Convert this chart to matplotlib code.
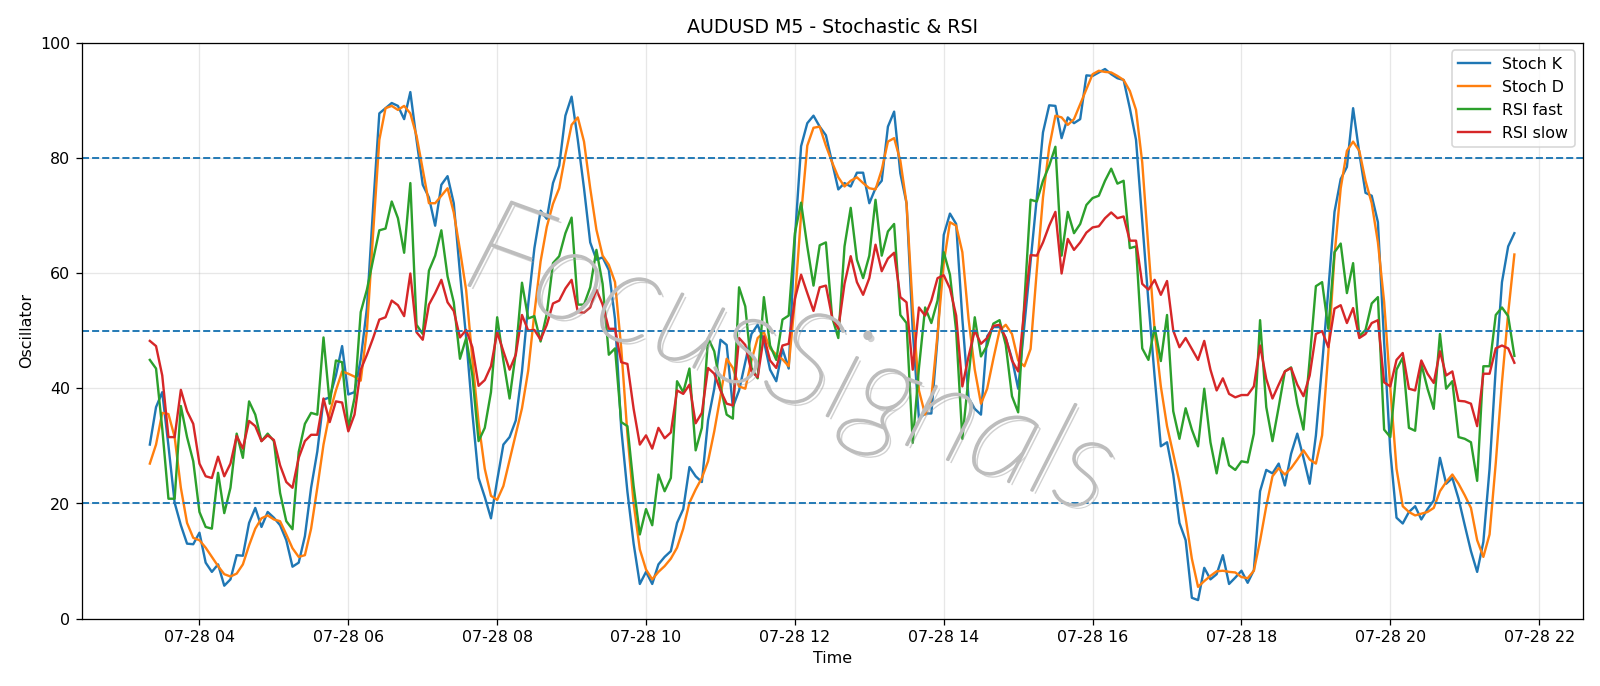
import matplotlib
matplotlib.use("Agg")
import matplotlib.pyplot as plt
import matplotlib.dates as mdates
import matplotlib.patheffects as pe
import pandas as pd

# 5-minute bars, 03:20 -> 21:40
times = pd.date_range("2025-07-28 03:20", periods=221, freq="5min")

stoch_k = [
    30.2, 36.7, 39.3, 30.0, 20.1, 16.2, 13.0, 12.9, 14.9, 9.7,
    8.1, 9.4, 5.7, 6.8, 11.0, 10.9, 16.6, 19.2, 15.9, 18.5,
    17.5, 16.2, 13.6, 9.0, 9.7, 14.3, 22.7, 29.0, 38.0, 38.4,
    42.2, 47.3, 38.9, 39.3, 45.0, 53.9, 71.4, 87.7, 88.6, 89.5,
    89.0, 86.7, 91.4, 83.1, 75.3, 73.1, 68.2, 75.3, 76.8, 72.1,
    60.0, 48.7, 35.7, 24.4, 21.1, 17.4, 24.0, 30.2, 31.5, 34.4,
    42.9, 54.5, 64.3, 70.8, 69.4, 75.6, 78.6, 87.3, 90.6, 83.1,
    74.7, 65.3, 62.3, 62.7, 60.5, 52.0, 33.0, 22.0, 13.0, 6.0,
    8.1, 6.0, 9.4, 10.7, 11.7, 16.6, 19.0, 26.3, 24.7, 23.7,
    34.4, 39.9, 48.4, 47.5, 36.7, 39.6, 44.5, 49.4, 51.0, 48.2,
    43.2, 41.2, 46.8, 43.4, 66.0, 82.0, 86.0, 87.3, 85.4, 83.9,
    79.2, 74.5, 75.6, 75.0, 77.4, 77.4, 72.1, 74.7, 76.0, 85.4,
    88.0, 77.3, 72.1, 50.0, 34.7, 35.6, 35.6, 48.7, 66.6, 70.3,
    68.5, 52.0, 38.3, 36.4, 35.4, 49.0, 50.6, 50.6, 48.7, 45.1,
    39.9, 51.0, 62.0, 73.0, 84.4, 89.1, 89.0, 83.4, 87.0, 86.0,
    86.7, 94.3, 94.2, 94.8, 95.4, 94.5, 93.8, 93.5, 88.6, 83.1,
    69.0, 55.0, 42.0, 29.9, 30.6, 25.0, 16.6, 13.6, 3.6, 3.2,
    8.8, 6.8, 7.7, 11.0, 6.0, 7.1, 8.3, 6.2, 8.4, 22.1,
    25.8, 25.2, 26.9, 23.1, 28.6, 32.1, 27.9, 23.4, 31.8, 44.0,
    57.0, 70.6, 76.3, 78.4, 88.6, 80.8, 73.9, 73.4, 68.8, 48.0,
    29.0, 17.5, 16.5, 18.5, 19.5, 17.2, 19.0, 20.5, 27.9, 23.4,
    24.4, 20.8, 16.2, 11.7, 8.1, 13.3, 26.0, 43.5, 58.4, 64.6,
    66.9,
]

stoch_d = [
    26.9, 30.2, 35.7, 35.5, 31.5, 22.7, 16.6, 14.0, 13.6, 12.3,
    10.7, 9.1, 7.7, 7.3, 7.8, 9.4, 12.7, 15.6, 17.4, 17.9,
    17.2, 16.9, 14.6, 12.2, 10.7, 11.0, 15.6, 22.7, 30.2, 35.7,
    39.6, 42.9, 42.5, 42.0, 41.3, 50.0, 66.9, 83.1, 88.6, 89.0,
    88.3, 89.0, 87.7, 83.8, 77.9, 72.1, 72.1, 73.4, 74.7, 70.5,
    64.0, 57.0, 45.0, 34.0, 26.0, 21.3, 20.6, 23.0, 27.5, 32.0,
    36.5, 43.0, 53.0, 62.0, 68.0, 72.0, 74.7, 80.5, 85.7, 87.0,
    82.8, 74.7, 67.5, 63.0, 61.4, 58.4, 47.0, 32.0, 20.0, 12.0,
    8.5, 6.8, 8.1, 9.1, 10.4, 12.3, 15.6, 20.1, 22.4, 24.4,
    27.3, 32.5, 38.6, 45.1, 43.5, 40.3, 39.9, 44.8, 48.7, 49.7,
    46.9, 45.8, 45.0, 43.8, 55.2, 70.1, 82.1, 85.2, 85.4, 82.1,
    79.2, 76.6, 75.0, 76.0, 76.6, 75.6, 74.7, 74.5, 77.9, 82.8,
    83.4, 79.5, 72.1, 53.9, 39.6, 35.4, 38.3, 49.4, 61.7, 68.8,
    68.2, 63.6, 52.0, 43.2, 37.3, 39.9, 45.1, 50.0, 51.0, 49.4,
    44.8, 43.8, 46.8, 60.4, 73.1, 81.8, 87.3, 87.0, 85.7, 86.7,
    89.3, 91.9, 94.5, 95.1, 94.9, 94.8, 94.2, 93.5, 91.6, 88.3,
    79.2, 64.3, 50.0, 40.3, 33.4, 28.6, 23.7, 17.5, 10.4, 5.5,
    6.5, 7.4, 8.2, 8.3, 8.1, 8.0, 7.2, 7.0, 8.3, 13.5,
    19.5, 24.7, 26.1, 25.0, 26.1, 27.6, 29.2, 27.6, 26.9, 31.8,
    46.1, 63.0, 74.7, 81.2, 82.8, 81.2, 76.0, 72.1, 65.3, 55.0,
    40.0, 26.0, 19.5, 18.5, 17.9, 18.2, 18.5, 19.2, 22.1, 23.7,
    25.0, 23.4, 21.4, 19.2, 13.6, 10.7, 14.6, 27.0, 41.0, 53.0,
    63.2,
]

rsi_fast = [
    44.9, 43.4, 33.0, 20.8, 20.8, 36.9, 31.5, 27.3, 18.5, 15.9,
    15.6, 25.3, 18.3, 22.7, 32.1, 27.9, 37.7, 35.4, 30.8, 32.1,
    30.8, 21.8, 16.9, 15.5, 28.9, 33.8, 35.7, 35.4, 48.8, 37.3,
    44.8, 44.5, 33.0, 38.3, 53.2, 57.1, 62.3, 67.4, 67.7, 72.4,
    69.5, 63.5, 75.6, 51.0, 49.4, 60.4, 63.0, 67.4, 59.4, 54.9,
    45.1, 48.7, 42.2, 30.8, 33.1, 39.3, 52.3, 44.8, 38.2, 46.1,
    58.3, 52.1, 52.5, 48.1, 52.9, 61.7, 62.9, 66.9, 69.6, 54.5,
    54.5, 57.5, 64.0, 58.1, 45.8, 46.9, 34.1, 33.4, 23.0, 14.6,
    19.0, 16.2, 25.0, 22.1, 24.4, 41.2, 39.3, 43.4, 29.2, 33.1,
    48.7, 46.4, 40.3, 35.4, 34.7, 57.5, 54.2, 43.5, 41.7, 55.8,
    47.4, 44.9, 51.9, 52.6, 66.9, 72.2, 64.6, 57.8, 64.8, 65.3,
    52.3, 48.7, 64.6, 71.3, 62.3, 59.1, 63.0, 72.7, 63.0, 67.2,
    68.5, 52.7, 51.3, 30.5, 43.5, 54.0, 51.3, 55.2, 63.6, 59.7,
    50.0, 31.2, 42.0, 52.3, 45.5, 47.4, 51.2, 51.8, 47.5, 38.6,
    35.8, 55.0, 72.7, 72.4, 76.0, 78.6, 81.9, 63.0, 70.6, 66.9,
    68.5, 71.8, 73.0, 73.4, 76.0, 78.1, 75.5, 76.0, 64.3, 64.6,
    46.9, 44.9, 50.6, 44.7, 52.7, 36.0, 31.2, 36.5, 32.8, 29.9,
    39.9, 30.6, 25.2, 31.3, 26.6, 25.8, 27.3, 27.1, 32.1, 51.8,
    36.7, 30.8, 36.7, 42.9, 43.6, 37.3, 32.8, 45.0, 57.7, 58.4,
    50.3, 63.6, 65.1, 56.5, 61.7, 49.0, 50.1, 54.7, 55.8, 32.8,
    31.5, 43.2, 45.3, 33.1, 32.6, 44.2, 39.9, 36.4, 49.4, 39.9,
    41.2, 31.5, 31.2, 30.6, 23.9, 43.8, 43.8, 52.7, 54.0, 52.5,
    45.6,
]

rsi_slow = [
    48.2, 47.3, 42.2, 31.5, 31.5, 39.7, 36.0, 33.8, 26.9, 24.7,
    24.4, 28.1, 24.7, 26.9, 31.7, 29.5, 34.3, 33.4, 30.8, 31.8,
    31.0, 26.6, 23.7, 22.7, 27.9, 30.8, 31.9, 31.9, 38.2, 34.1,
    37.7, 37.5, 32.5, 35.4, 43.2, 45.8, 48.7, 51.9, 52.3, 55.2,
    54.4, 52.5, 59.9, 49.7, 48.4, 54.5, 56.5, 58.8, 54.9, 53.4,
    48.8, 50.1, 47.1, 40.4, 41.4, 43.8, 49.7, 46.4, 43.2, 45.8,
    52.7, 50.0, 50.1, 48.4, 51.0, 54.7, 55.2, 57.3, 58.8, 53.2,
    53.1, 54.0, 57.1, 54.5, 50.3, 50.3, 44.5, 44.2, 36.4, 30.2,
    31.8, 29.5, 33.1, 31.3, 32.3, 39.6, 39.0, 40.6, 33.9, 35.7,
    43.5, 42.5, 39.6, 37.3, 37.0, 48.7, 47.5, 42.9, 41.9, 49.0,
    44.8, 43.5, 47.4, 47.7, 55.5, 59.7, 56.5, 53.4, 57.5, 57.8,
    52.3, 50.3, 58.1, 62.9, 58.4, 56.2, 59.1, 64.9, 60.3, 62.5,
    63.5, 55.8, 54.9, 43.2, 54.0, 52.6, 55.2, 59.1, 59.6, 57.3,
    52.6, 40.3, 45.5, 50.0, 47.7, 48.7, 50.8, 51.0, 48.7, 44.8,
    42.9, 53.9, 63.1, 63.0, 65.3, 68.2, 70.6, 59.9, 65.9, 64.0,
    65.3, 67.0, 67.9, 68.1, 69.5, 70.5, 69.5, 69.8, 65.6, 65.6,
    58.1, 57.1, 58.8, 56.2, 58.6, 50.0, 47.1, 48.7, 46.8, 44.9,
    48.2, 43.2, 39.6, 41.7, 39.0, 38.4, 38.8, 38.8, 40.3, 47.4,
    41.6, 38.2, 40.6, 42.9, 43.5, 40.6, 38.6, 42.2, 49.4, 49.9,
    47.1, 53.8, 54.4, 51.3, 53.9, 48.7, 49.4, 51.3, 51.8, 41.0,
    40.3, 44.9, 46.1, 39.9, 39.6, 44.8, 42.5, 40.9, 46.4, 42.2,
    42.9, 37.8, 37.7, 37.3, 33.4, 42.5, 42.5, 46.9, 47.4, 46.9,
    44.4,
]

levels = [20, 50, 80]

fig = plt.figure(figsize=(14, 6.005), dpi=114.3)
ax = fig.add_axes([0.051, 0.0983, 0.938, 0.8392])

ax.plot(times, stoch_k, label="Stoch K")
ax.plot(times, stoch_d, label="Stoch D")
ax.plot(times, rsi_fast, label="RSI fast")
ax.plot(times, rsi_slow, label="RSI slow")

for lv in levels:
    ax.axhline(lv, color="C0", linestyle="--", linewidth=1.2)

ax.set_ylim(0, 100)
ax.xaxis.set_major_locator(mdates.HourLocator(interval=2))
ax.xaxis.set_major_formatter(mdates.DateFormatter("%m-%d %H"))
ax.grid(True, alpha=0.3)

ax.set_title("AUDUSD M5 - Stochastic & RSI")
ax.set_xlabel("Time")
ax.set_ylabel("Oscillator")
ax.legend(loc="upper right")

# watermark: thin strokes with a soft shadow
ax.text(0.472, 0.44, "FocusSignals", transform=ax.transAxes,
        ha="center", va="center", rotation=-20, fontsize=84,
        family="Lato", weight="light", style="italic",
        color="#bdbdbd", zorder=3,
        path_effects=[pe.SimplePatchShadow(offset=(2, -2), shadow_rgbFace="#999999", alpha=0.45),
                      pe.Stroke(linewidth=1.4, foreground="#bdbdbd"),
                      pe.Normal()])

fig.savefig("out.png", dpi=114.3)
